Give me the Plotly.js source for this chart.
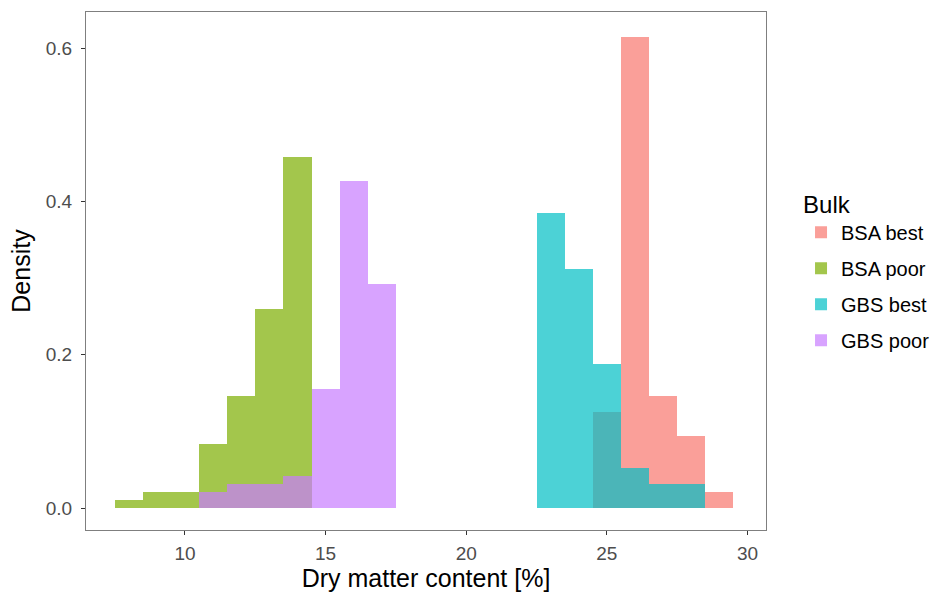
<!DOCTYPE html>
<html>
<head>
<meta charset="utf-8">
<script src="https://cdn.plot.ly/plotly-3.0.1.min.js"></script>
<style>
html,body{margin:0;padding:0;background:#fff;}
#chart{width:933px;height:593px;}
#chart .bars path{shape-rendering:crispEdges;}
</style>
</head>
<body>
<div id="chart"></div>
<script>
// Bin centres (bin width 1) and densities
const bsaBestX = [25, 26, 27, 28, 29];
const bsaBestY = [0.125, 0.615, 0.146, 0.094, 0.021];

const bsaPoorX = [8, 9, 10, 11, 12, 13, 14];
const bsaPoorY = [0.0104, 0.0208, 0.0208, 0.0833, 0.146, 0.260, 0.458];

const gbsBestX = [23, 24, 25, 26, 27, 28];
const gbsBestY = [0.385, 0.3125, 0.1875, 0.052, 0.031, 0.031];

const gbsPoorX = [11, 12, 13, 14, 15, 16, 17];
const gbsPoorY = [0.0208, 0.031, 0.031, 0.042, 0.156, 0.427, 0.292];

const seriesNames = ["BSA best", "BSA poor", "GBS best", "GBS poor"];
const colors = ["rgba(248,118,109,0.7)", "rgba(124,174,0,0.7)", "rgba(0,191,196,0.7)", "rgba(199,124,255,0.7)"];
const xs = [bsaBestX, bsaPoorX, gbsBestX, gbsPoorX];
const ys = [bsaBestY, bsaPoorY, gbsBestY, gbsPoorY];

const traces = seriesNames.map((n, i) => ({
  type: "bar",
  name: n,
  x: xs[i],
  y: ys[i],
  width: 1,
  legendgroup: n,
  marker: { color: colors[i], line: { width: 0 } }
}));

const font = "Liberation Sans, Arial, sans-serif";
const layout = {
  width: 933,
  height: 593,
  barmode: "overlay",
  paper_bgcolor: "#fff",
  plot_bgcolor: "#fff",
  margin: { l: 86, r: 167, t: 12, b: 63, autoexpand: false },
  font: { family: font, color: "#000" },
  xaxis: {
    range: [6.48, 30.66],
    tickvals: [10, 15, 20, 25, 30],
    ticktext: ["10", "15", "20", "25", "30"],
    ticks: "outside", ticklen: 4, tickcolor: "#333", tickwidth: 1,
    ticklabelstandoff: 2,
    tickfont: { size: 19, color: "#4D4D4D", family: font },
    showgrid: false, zeroline: false,
    showline: true, linecolor: "#7F7F7F", linewidth: 1, mirror: true,
    title: { text: "Dry matter content [%]", font: { size: 25, color: "#000", family: font }, standoff: 4 }
  },
  yaxis: {
    range: [-0.0287, 0.6475],
    tickvals: [0, 0.2, 0.4, 0.6],
    ticktext: ["0.0", "0.2", "0.4", "0.6"],
    ticks: "outside", ticklen: 4, tickcolor: "#333", tickwidth: 1,
    ticklabelstandoff: 5,
    tickfont: { size: 19, color: "#4D4D4D", family: font },
    showgrid: false, zeroline: false,
    showline: true, linecolor: "#7F7F7F", linewidth: 1, mirror: true,
    title: { text: "Density", font: { size: 25, color: "#000", family: font }, standoff: 8 }
  },
  legend: {
    x: 1.0515, xanchor: "left", y: 0.5, yanchor: "middle",
    title: { text: "Bulk", font: { size: 24, color: "#000", family: font } },
    font: { size: 20, color: "#000", family: font },
    tracegroupgap: 7,
    itemwidth: 30,
    traceorder: "grouped"
  },
  showlegend: true
};

Plotly.newPlot("chart", traces, layout, { displayModeBar: false, staticPlot: true });
</script>
</body>
</html>
